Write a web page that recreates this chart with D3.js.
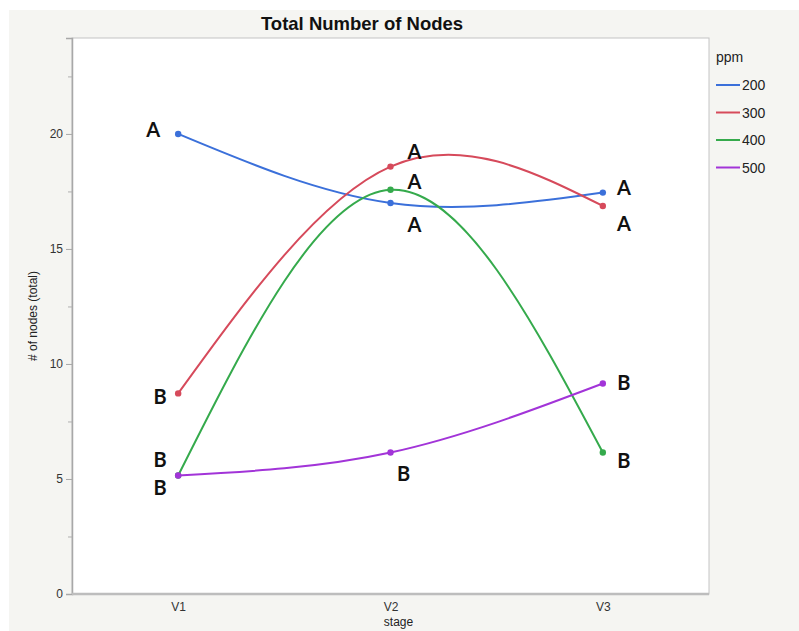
<!DOCTYPE html>
<html>
<head>
<meta charset="utf-8">
<script src="https://cdn.jsdelivr.net/npm/d3@7"></script>
<style>
  html, body { margin: 0; padding: 0; background: #ffffff; }
  svg { display: block; }
</style>
</head>
<body>
<svg id="chart" width="799" height="631"></svg>
<script>
// Stages on the x axis
const stages = ["V1", "V2", "V3"];
// ppm levels (legend order)
const ppmLevels = ["200", "300", "400", "500"];
// Mean total nodes per stage, one array per ppm level
const nodes200 = [20.0, 17.0, 17.45];
const nodes300 = [8.72, 18.58, 16.87];
const nodes400 = [5.15, 17.57, 6.15];
const nodes500 = [5.15, 6.15, 9.15];
// Significance letters per stage for each ppm level
const letters200 = ["A", "A", "A"];
const letters300 = ["B", "A", "A"];
const letters400 = ["B", "A", "B"];
const letters500 = ["B", "B", "B"];
// Y axis ticks
const yMajorTicks = [0, 5, 10, 15, 20];
const yMinorTicks = [2.5, 7.5, 12.5, 17.5, 22.5];

const colors = {"200": "#3b70da", "300": "#d64a5b", "400": "#35aa4c", "500": "#a234d8"};
const seriesValues = {"200": nodes200, "300": nodes300, "400": nodes400, "500": nodes500};
const seriesLetters = {"200": letters200, "300": letters300, "400": letters400, "500": letters500};

// Letter placement (pixel offsets from the point) for each series/stage
const letterOffsets = {
  "200": [[-25, -5], [24, 21], [21, -6]],
  "300": [[-18, 3], [24, -16], [21, 17]],
  "400": [[-18, -17], [24, -9], [21, 7]],
  "500": [[-18, 11], [13, 20], [21, -2]]
};

const svg = d3.select("#chart");
const plot = {left: 72, right: 709, top: 38, bottom: 594};

// Panel background
svg.append("rect").attr("x", 9).attr("y", 10).attr("width", 790).attr("height", 621)
  .attr("fill", "#f5f5f2");
svg.append("rect").attr("x", plot.left).attr("y", plot.top)
  .attr("width", plot.right - plot.left).attr("height", plot.bottom - plot.top)
  .attr("fill", "#ffffff").attr("stroke", "#c4c4c4").attr("stroke-width", 1);

const x = d3.scalePoint().domain(stages).range([plot.left, plot.right]).padding(0.5);
const y = d3.scaleLinear().domain([0, 24.17]).range([plot.bottom, plot.top]);

// Y axis
const yAxis = svg.append("g").attr("transform", `translate(${plot.left},0)`)
  .call(d3.axisLeft(y).tickValues(yMajorTicks).tickSize(6).tickPadding(3));
yAxis.select(".domain").attr("stroke", "#a8a8a8").attr("stroke-width", 1.5);
yAxis.selectAll(".tick line").attr("stroke", "#a8a8a8");
yAxis.selectAll(".tick text").attr("fill", "#333").style("font-family", "'Liberation Sans', Arial, sans-serif").style("font-size", "12px");
svg.append("g").attr("transform", `translate(${plot.left},0)`)
  .call(d3.axisLeft(y).tickValues(yMinorTicks).tickSize(4).tickFormat(""))
  .call(g => g.select(".domain").remove())
  .selectAll(".tick line").attr("stroke", "#b0b0b0");

// X axis
const xAxis = svg.append("g").attr("transform", `translate(0,${plot.bottom})`)
  .call(d3.axisBottom(x).tickSize(0).tickPadding(8));
xAxis.select(".domain").attr("stroke", "#bdbdbd").attr("stroke-width", 2.5)
  .attr("d", `M${plot.left},0H${plot.right}`);
xAxis.selectAll(".tick text").attr("fill", "#333").style("font-family", "'Liberation Sans', Arial, sans-serif").style("font-size", "12px");

// Axis titles
svg.append("text").attr("x", (plot.left + plot.right) / 2 + 8).attr("y", 626)
  .attr("text-anchor", "middle").attr("fill", "#222")
  .style("font-family", "'Liberation Sans', Arial, sans-serif").style("font-size", "12px")
  .text("stage");
svg.append("text").attr("transform", `translate(37,${(plot.top + plot.bottom) / 2}) rotate(-90)`)
  .attr("text-anchor", "middle").attr("fill", "#222")
  .style("font-family", "'Liberation Sans', Arial, sans-serif").style("font-size", "12px")
  .text("# of nodes (total)");

// Title
svg.append("text").attr("x", 362).attr("y", 30).attr("text-anchor", "middle")
  .attr("fill", "#111").style("font-family", "'Liberation Sans', Arial, sans-serif")
  .style("font-size", "18.5px").style("font-weight", "bold")
  .text("Total Number of Nodes");

// Smooth spline through the stage means
const line = d3.line().x(d => x(d.stage)).y(d => y(d.value)).curve(d3.curveNatural);

const series = ppmLevels.map(k => ({
  key: k,
  points: stages.map((s, i) => ({stage: s, value: seriesValues[k][i], letter: seriesLetters[k][i], off: letterOffsets[k][i]}))
}));

const g = svg.append("g");
series.forEach(sr => {
  g.append("path").attr("d", line(sr.points)).attr("fill", "none")
    .attr("stroke", colors[sr.key]).attr("stroke-width", 2);
  g.selectAll(null).data(sr.points).enter().append("circle")
    .attr("cx", d => x(d.stage)).attr("cy", d => y(d.value)).attr("r", 3.2)
    .attr("fill", colors[sr.key]);
});

// Significance letters
series.forEach(sr => {
  g.selectAll(null).data(sr.points).enter().append("text")
    .attr("x", d => x(d.stage) + d.off[0]).attr("y", d => y(d.value) + d.off[1])
    .attr("text-anchor", "middle").attr("dominant-baseline", "central")
    .attr("fill", "#111").style("font-family", "Lato, 'Open Sans', sans-serif")
    .style("font-weight", "bold").style("font-size", "20px")
    .text(d => d.letter);
});

// Legend
const legend = svg.append("g").attr("transform", "translate(716,0)");
legend.append("text").attr("x", 0).attr("y", 62).attr("fill", "#222")
  .style("font-family", "'Liberation Sans', Arial, sans-serif").style("font-size", "14px")
  .text("ppm");
ppmLevels.forEach((k, i) => {
  const cy = 85 + i * 27.5;
  legend.append("line").attr("x1", 0).attr("x2", 24).attr("y1", cy).attr("y2", cy)
    .attr("stroke", colors[k]).attr("stroke-width", 2);
  legend.append("text").attr("x", 26).attr("y", cy).attr("dominant-baseline", "central")
    .attr("fill", "#222").style("font-family", "'Liberation Sans', Arial, sans-serif")
    .style("font-size", "14px").text(k);
});
</script>
</body>
</html>
